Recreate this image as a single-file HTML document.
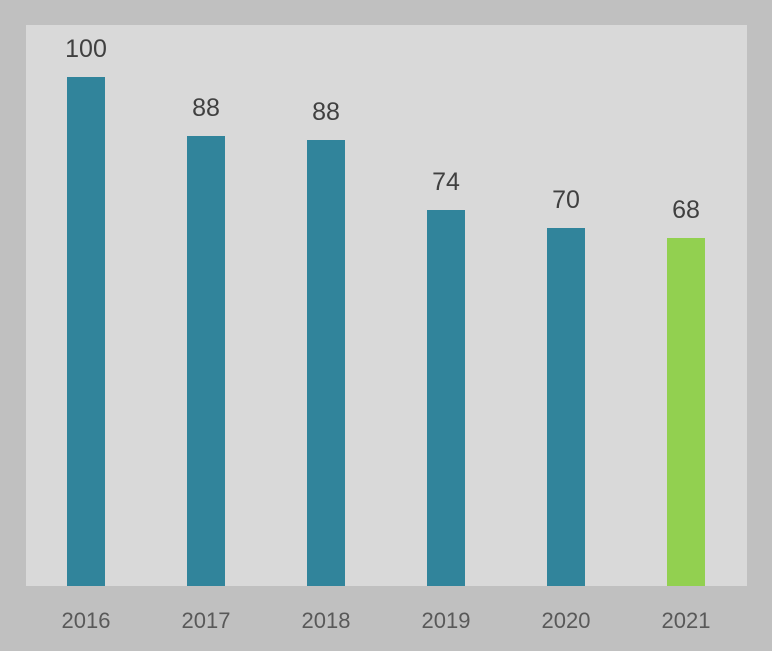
<!DOCTYPE html>
<html><head><style>
body{margin:0;width:772px;height:651px;background:#c0c0c0;position:relative;overflow:hidden;font-family:"Liberation Sans",sans-serif;}
.plot{position:absolute;left:26px;top:25px;width:721px;height:561px;background:#d9d9d9;}
.bar{position:absolute;width:38px;bottom:65px;background:#31849b;}
.v{position:absolute;width:80px;text-align:center;font-size:25px;color:#404040;}
.x{position:absolute;top:608px;width:80px;text-align:center;font-size:22px;color:#595959;}
</style></head><body>
<div class="plot"></div>
<div class="bar" style="left:67px;top:77px"></div>
<div class="bar" style="left:187px;top:136px"></div>
<div class="bar" style="left:307px;top:140px"></div>
<div class="bar" style="left:427px;top:210px"></div>
<div class="bar" style="left:547px;top:228px"></div>
<div class="bar" style="left:667px;top:238px;background:#92d050"></div>
<div class="v" style="left:46px;top:35px">100</div>
<div class="v" style="left:166px;top:94px">88</div>
<div class="v" style="left:286px;top:98px">88</div>
<div class="v" style="left:406px;top:168px">74</div>
<div class="v" style="left:526px;top:186px">70</div>
<div class="v" style="left:646px;top:196px">68</div>
<div class="x" style="left:46px">2016</div>
<div class="x" style="left:166px">2017</div>
<div class="x" style="left:286px">2018</div>
<div class="x" style="left:406px">2019</div>
<div class="x" style="left:526px">2020</div>
<div class="x" style="left:646px">2021</div>
</body></html>
